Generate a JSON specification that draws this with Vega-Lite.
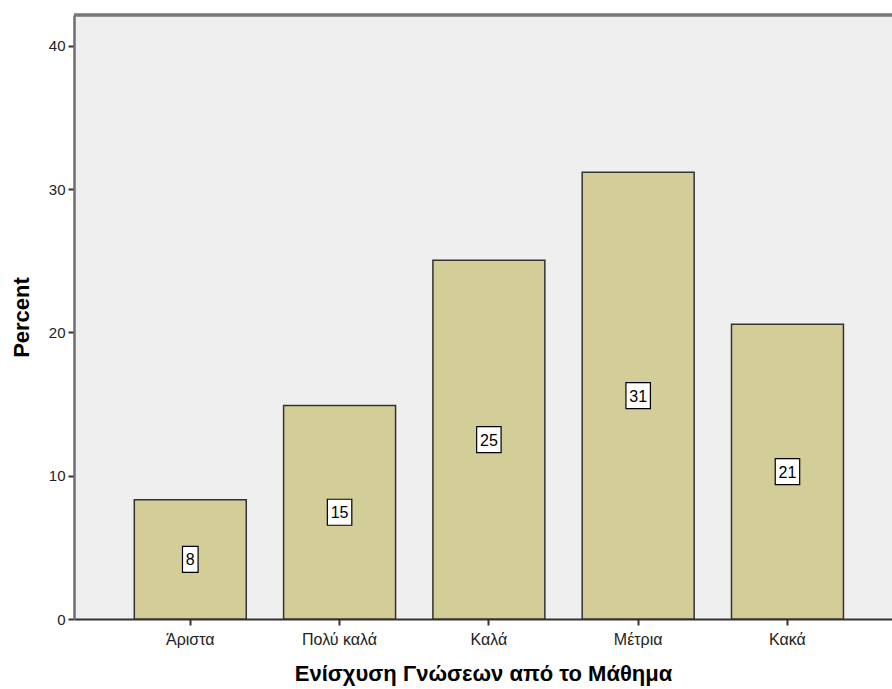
{
  "$schema": "https://vega.github.io/schema/vega-lite/v6.json",
  "width": 818,
  "height": 604,
  "autosize": {"type": "none"},
  "padding": {"left": 74, "top": 15, "right": 0, "bottom": 70},
  "background": "white",
  "config": {
    "view": {"fill": "#EFEFEF", "stroke": null},
    "font": "Liberation Sans"
  },
  "data": {
    "values": [
      {"category": "Άριστα", "percent": 8.32},
      {"category": "Πολύ καλά", "percent": 14.9},
      {"category": "Καλά", "percent": 25.04},
      {"category": "Μέτρια", "percent": 31.17},
      {"category": "Κακά", "percent": 20.57}
    ]
  },
  "layer": [
    {
      "mark": {"type": "bar", "fill": "#D3CE97", "stroke": "#333333", "strokeWidth": 1.5},
      "encoding": {
        "x": {
          "field": "category",
          "type": "nominal",
          "sort": null,
          "scale": {"paddingInner": 0.25, "paddingOuter": 0.3645, "align": 0.554},
          "axis": {
            "title": "Ενίσχυση Γνώσεων από το Μάθημα",
            "titleFont": "Liberation Sans",
            "titleFontWeight": "bold",
            "titleFontSize": 22,
            "titleColor": "#000000",
            "titlePadding": 16,
            "labelAngle": 0,
            "labelFontSize": 16,
            "labelColor": "#222222",
            "labelPadding": 6,
            "domainColor": "#333333",
            "domainWidth": 2,
            "tickColor": "#333333",
            "tickWidth": 2,
            "tickSize": 6,
            "grid": false
          }
        },
        "y": {
          "field": "percent",
          "type": "quantitative",
          "scale": {"domain": [0, 42.15], "nice": false, "zero": true},
          "axis": {
            "title": "Percent",
            "titleFont": "Liberation Sans",
            "titleFontWeight": "bold",
            "titleFontSize": 22,
            "titleColor": "#000000",
            "titlePadding": 15,
            "values": [0, 10, 20, 30, 40],
            "labelFontSize": 15,
            "labelColor": "#222222",
            "labelPadding": 3,
            "domainColor": "#6F6F6F",
            "domainWidth": 2.5,
            "tickColor": "#333333",
            "tickWidth": 2,
            "tickSize": 6,
            "grid": false
          }
        }
      }
    },
    {
      "mark": {"type": "rule", "stroke": "#777777", "strokeWidth": 2.5},
      "encoding": {"y": {"datum": 42.15, "type": "quantitative"}}
    },
    {
      "transform": [{"calculate": "datum.percent / 2", "as": "mid"}, {"filter": "datum.percent < 9.5"}],
      "mark": {"type": "point", "shape": "M-0.6,-1 L0.6,-1 L0.6,1 L-0.6,1 Z", "size": 676, "filled": true, "fill": "white", "stroke": "#000000", "strokeWidth": 1.2, "opacity": 1},
      "encoding": {
        "x": {"field": "category", "type": "nominal", "sort": null},
        "y": {"field": "mid", "type": "quantitative"}
      }
    },
    {
      "transform": [{"calculate": "datum.percent / 2", "as": "mid"}, {"filter": "datum.percent >= 9.5"}],
      "mark": {"type": "point", "shape": "M-0.94,-1 L0.94,-1 L0.94,1 L-0.94,1 Z", "size": 676, "filled": true, "fill": "white", "stroke": "#000000", "strokeWidth": 1.2, "opacity": 1},
      "encoding": {
        "x": {"field": "category", "type": "nominal", "sort": null},
        "y": {"field": "mid", "type": "quantitative"}
      }
    },
    {
      "transform": [{"calculate": "datum.percent / 2", "as": "mid"}],
      "mark": {"type": "text", "fontSize": 16, "color": "#000000", "baseline": "middle", "align": "center", "dy": 1},
      "encoding": {
        "x": {"field": "category", "type": "nominal", "sort": null},
        "y": {"field": "mid", "type": "quantitative"},
        "text": {"field": "percent", "type": "quantitative", "format": ".0f"}
      }
    }
  ]
}
